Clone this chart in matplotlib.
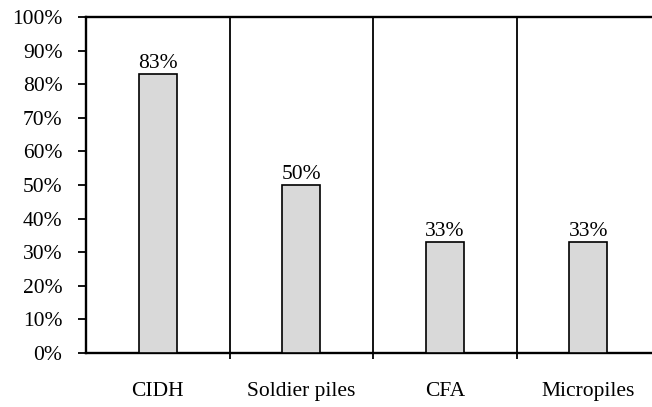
import matplotlib.pyplot as plt
import numpy as np

categories = ['CIDH', 'Soldier piles', 'CFA', 'Micropiles']
shares = [83, 50, 33, 33]
y_ticks = list(range(0, 101, 10))

plt.rcParams['font.family'] = ['Liberation Serif', 'DejaVu Serif']

fig = plt.figure(figsize=(6.52, 4.07), dpi=100)
# axes extend a little past the right edge, as in the original
ax = fig.add_axes([86 / 652, 54 / 407, 574 / 652, 336 / 407])

x = np.arange(len(categories))
ax.bar(x, shares, width=0.265, color='#d9d9d9', edgecolor='black', linewidth=1.2, zorder=3)

# value labels above bars
for xi, v in zip(x, shares):
    ax.text(xi, v + 0.3, f'{v}%', ha='center', va='bottom', fontsize=15.5)

# separators between categories
for b in x[:-1] + 0.5:
    ax.axvline(b, color='black', linewidth=1.3, zorder=2)

ax.set_xlim(-0.5, len(categories) - 0.5)
ax.set_ylim(0, 100)
ax.set_yticks(y_ticks)
ax.set_yticklabels([f'{t}%' for t in y_ticks], fontsize=15.5)
ax.set_xticks(x)
ax.set_xticklabels(categories, fontsize=15.5)
ax.set_xticks(x[:-1] + 0.5, minor=True)

ax.tick_params(axis='y', direction='out', length=6, width=1.3, pad=11)
ax.tick_params(axis='x', which='major', length=0, pad=21)
ax.tick_params(axis='x', which='minor', direction='out', length=4.5, width=1.3)

for s in ax.spines.values():
    s.set_linewidth(1.7)
ax.spines['right'].set_visible(False)

fig.savefig('out.png', dpi=100)
